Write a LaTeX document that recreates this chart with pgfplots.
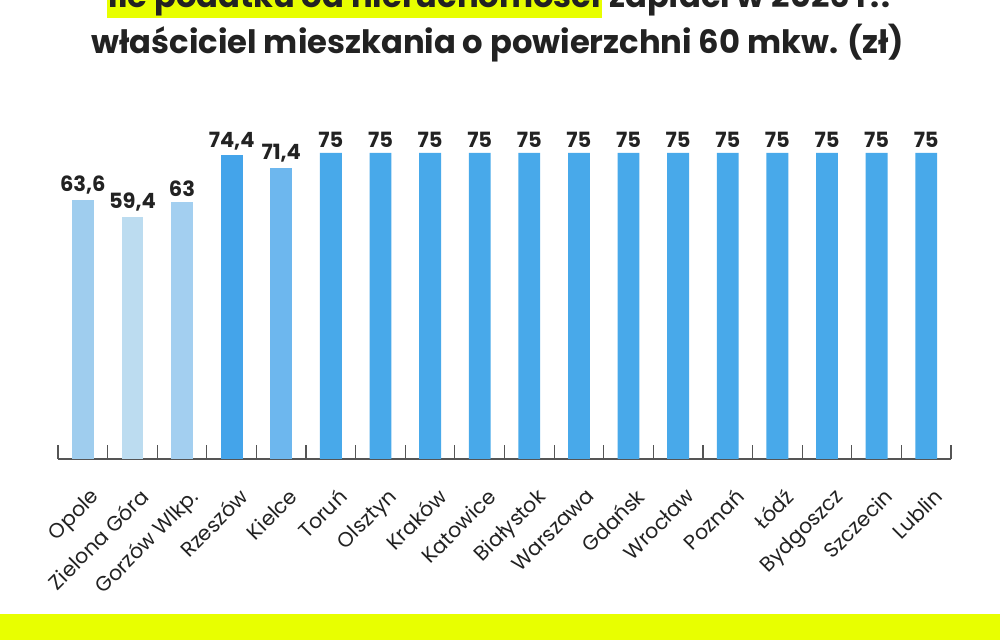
\documentclass[border=0pt]{standalone}
\usepackage{pgfplots}
\pgfplotsset{compat=1.18}
\usepackage{fontspec}
\setmainfont{Poppins}
\definecolor{hlyellow}{HTML}{E8FF00}
\definecolor{cOpole}{HTML}{9FCDEE}
\definecolor{cZG}{HTML}{BCDCF0}
\definecolor{cGW}{HTML}{A3CFF0}
\definecolor{cRz}{HTML}{44A4EA}
\definecolor{cKi}{HTML}{6DB7EE}
\definecolor{cMain}{HTML}{48A9EA}
\definecolor{axgray}{HTML}{555555}
\definecolor{txt}{HTML}{222222}
\begin{document}
\begin{tikzpicture}
\clip (0,0) rectangle (500pt,320pt);
\fill[white] (0,0) rectangle (500pt,320pt);
\fill[hlyellow] (0,0) rectangle (500pt,13pt);
\node[anchor=base, font=\bfseries\fontsize{16.1pt}{18pt}\selectfont, text=txt, inner sep=0pt] at (249pt,293pt) {właściciel mieszkania o powierzchni 60 mkw. (zł)};
\setlength{\fboxsep}{0.8pt}
\node[anchor=base, font=\bfseries\fontsize{16.1pt}{18pt}\selectfont, text=txt, inner sep=0pt] at (251pt,316.3pt) {\colorbox{hlyellow}{Ile podatku od nieruchomości} zapłaci w 2026 r.?};
\begin{axis}[
  at={(29pt,90.5pt)}, anchor=south west,
  width=446.5pt, height=153pt, scale only axis,
  xmin=-0.5, xmax=17.5, ymin=0, ymax=75,
  axis x line*=bottom, axis y line=none,
  x axis line style={axgray, line width=0.6pt, -},
  ybar, bar width=0.44, bar shift=0pt,
  xtick={0,...,17},
  xticklabels={Opole,Zielona Góra,Gorzów Wlkp.,Rzeszów,Kielce,Toruń,Olsztyn,Kraków,Katowice,Białystok,Warszawa,Gdańsk,Wrocław,Poznań,Łódź,Bydgoszcz,Szczecin,Lublin},
  major tick length=0pt,
  minor xtick={-0.5,0.5,...,17.5},
  minor tick length=7pt,
  minor tick style={axgray, line width=0.6pt},
  tick align=inside,
  xticklabel style={rotate=45, anchor=north east, font=\fontsize{10.3pt}{11pt}\selectfont, text=txt, inner sep=1pt, xshift=-6.5pt, yshift=-11pt},
  ytick=\empty,
  nodes near coords,
  every node near coord/.append style={font=\bfseries\fontsize{10.5pt}{11pt}\selectfont, text=txt, inner sep=2.5pt, /pgf/number format/.cd, use comma, fixed, precision=1, assume math mode=true},
  clip=false,
]
\addplot[fill=cOpole, draw=none] coordinates {(0,63.6)};
\addplot[fill=cZG, draw=none] coordinates {(1,59.4)};
\addplot[fill=cGW, draw=none] coordinates {(2,63)};
\addplot[fill=cRz, draw=none] coordinates {(3,74.4)};
\addplot[fill=cKi, draw=none] coordinates {(4,71.4)};
\addplot[fill=cMain, draw=none] coordinates {(5,75) (6,75) (7,75) (8,75) (9,75) (10,75) (11,75) (12,75) (13,75) (14,75) (15,75) (16,75) (17,75)};
\end{axis}
\end{tikzpicture}
\end{document}
